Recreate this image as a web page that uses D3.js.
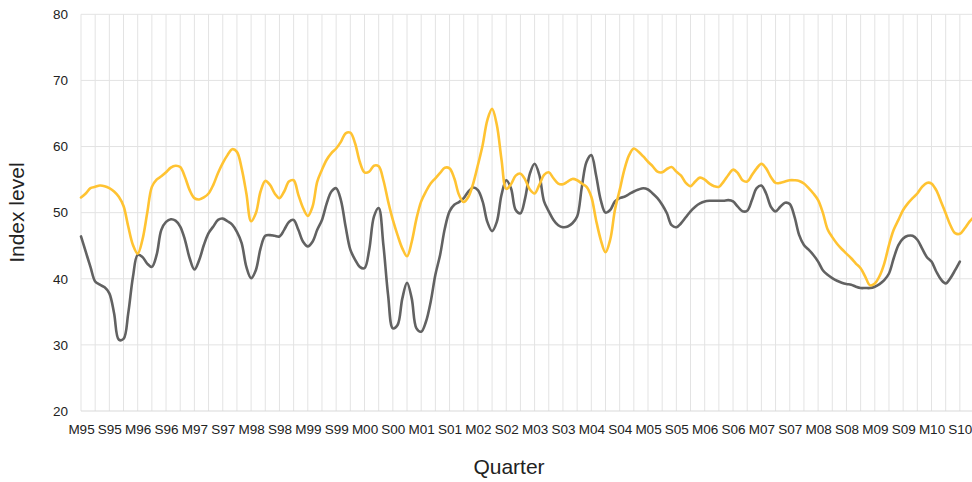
<!DOCTYPE html>
<html>
<head>
<meta charset="utf-8">
<script src="https://cdn.jsdelivr.net/npm/d3@7"></script>
<style>
  html, body { margin: 0; padding: 0; background: #fff; }
  svg { display: block; }
  text { font-family: "Liberation Sans", Arial, sans-serif; fill: #222; }
</style>
</head>
<body>
<svg id="chart" width="972" height="482"></svg>
<script>
// Quarter tick labels (every second quarter: March and September)
const tickLabels = ["M95","S95","M96","S96","M97","S97","M98","S98","M99","S99",
  "M00","S00","M01","S01","M02","S02","M03","S03","M04","S04","M05","S05",
  "M06","S06","M07","S07","M08","S08","M09","S09","M10","S10"];
const yTicks = [20, 30, 40, 50, 60, 70, 80];

// Monthly index levels starting March 1995
const seriesYellow = [
  52.3,52.9,53.7,53.9,54.1,54.0,53.7,53.2,52.4,51.0,
  47.9,45.1,43.8,45.9,49.9,53.9,55.0,55.5,56.1,56.8,
  57.1,56.9,55.4,53.4,52.2,52.0,52.3,52.9,54.2,56.0,
  57.5,58.7,59.6,59.2,56.7,52.9,48.7,49.9,53.2,54.8,
  54.2,52.9,52.2,53.2,54.7,54.9,52.7,50.7,49.5,50.9,
  54.7,56.5,58.0,59.0,59.7,60.7,62.0,62.1,60.5,57.7,
  56.1,56.2,57.1,57.0,54.9,51.7,48.9,46.6,44.6,43.4,
  45.6,49.1,51.7,53.2,54.4,55.2,56.0,56.8,56.7,55.2,
  52.7,51.6,52.4,54.4,57.2,60.2,64.0,65.7,63.3,58.0,
  53.6,54.3,55.6,55.9,55.0,53.5,52.9,54.2,55.7,56.1,
  55.2,54.4,54.3,54.7,55.1,54.9,54.4,53.9,52.4,48.9,
  45.9,44.0,45.9,50.4,53.4,56.5,58.7,59.7,59.2,58.5,
  57.7,57.0,56.2,56.1,56.6,56.9,56.2,55.6,54.5,54.0,
  54.7,55.3,55.0,54.4,54.0,53.9,54.7,55.7,56.5,56.0,
  54.9,54.7,55.7,56.7,57.4,56.7,55.4,54.5,54.5,54.7,
  54.9,54.9,54.8,54.4,53.7,52.9,51.9,50.0,47.5,46.3,
  45.3,44.5,43.8,43.1,42.3,41.6,40.3,39.0,39.3,40.4,
  42.3,45.1,47.4,48.9,50.4,51.4,52.2,52.9,53.9,54.5,
  54.4,53.4,51.7,49.9,48.1,46.9,46.8,47.6,48.6,49.4
];
const seriesGrey = [
  46.4,44.1,41.8,39.6,39.1,38.7,37.8,34.8,30.8,30.9,
  34.8,40.3,43.6,43.3,42.3,41.8,43.6,47.4,48.6,49.0,
  48.8,47.9,45.9,43.1,41.4,42.8,45.1,46.9,47.9,48.9,
  49.1,48.7,48.2,47.1,45.4,41.8,40.1,41.3,44.6,46.5,
  46.6,46.5,46.4,47.4,48.6,48.9,47.4,45.6,44.9,45.6,
  47.4,48.9,51.4,53.2,53.7,51.9,47.9,44.4,42.9,41.8,
  41.6,44.4,49.4,50.7,45.1,37.5,32.5,33.0,37.0,39.4,
  37.0,32.5,32.0,33.5,36.5,40.6,43.6,47.6,50.2,51.2,
  51.6,52.2,53.2,53.8,53.4,51.7,48.6,47.2,48.6,52.7,
  54.9,53.7,50.4,49.9,52.2,55.9,57.4,55.7,51.7,50.2,
  48.9,48.1,47.8,47.9,48.4,49.4,53.9,57.7,58.7,55.7,
  51.9,50.0,50.4,51.7,52.2,52.4,52.8,53.2,53.5,53.7,
  53.5,52.9,52.2,51.2,49.9,48.1,47.8,48.4,49.3,50.2,
  50.9,51.4,51.7,51.8,51.8,51.8,51.8,51.9,51.7,50.9,
  50.2,50.3,51.9,53.7,54.1,52.9,50.9,50.2,50.9,51.5,
  51.3,49.4,46.6,45.1,44.4,43.6,42.6,41.3,40.6,40.1,
  39.7,39.4,39.2,39.1,38.8,38.6,38.6,38.6,38.8,39.2,
  39.8,40.8,43.1,45.1,46.1,46.5,46.5,45.9,44.6,43.3,
  42.6,41.1,39.9,39.3,40.1,41.3,42.6
];

const svg = d3.select("#chart");
const W = 972, H = 482;
const plot = { left: 81, top: 14.3, bottom: 411, quarterW: 14.175 };
const nQuarters = 64;
const monthsPerQuarter = 3;
const maxMonth = (nQuarters - 1) * monthsPerQuarter;

const x = d3.scaleLinear()
  .domain([0, maxMonth])
  .range([plot.left, plot.left + (nQuarters - 1) * plot.quarterW]);
const y = d3.scaleLinear().domain([20, 80]).range([plot.bottom, plot.top]);

const gridColor = "#e3e3e3";

// vertical gridlines at every quarter
svg.append("g").selectAll("line")
  .data(d3.range(0, maxMonth + 1, monthsPerQuarter))
  .join("line")
  .attr("x1", d => x(d)).attr("x2", d => x(d))
  .attr("y1", y(80)).attr("y2", y(20))
  .attr("stroke", gridColor).attr("stroke-width", 1);

// horizontal gridlines
svg.append("g").selectAll("line")
  .data(yTicks)
  .join("line")
  .attr("x1", x(0)).attr("x2", x(maxMonth))
  .attr("y1", d => y(d)).attr("y2", d => y(d))
  .attr("stroke", d => d === 20 ? "#d9d9d9" : gridColor).attr("stroke-width", 1);

// y axis labels
const yAxis = d3.axisLeft(y).tickValues(yTicks).tickSize(0).tickPadding(13);
const gy = svg.append("g").attr("transform", `translate(${x(0)},0)`).call(yAxis);
gy.select(".domain").remove();
gy.selectAll("text").style("font-size", "13.5px").style("font-family", "'Liberation Sans', Arial, sans-serif").attr("fill", "#222");

// x axis labels
const xAxis = d3.axisBottom(x)
  .tickValues(tickLabels.map((_, i) => i * 2 * monthsPerQuarter))
  .tickFormat((d, i) => tickLabels[i]).tickSize(0).tickPadding(13);
const gx = svg.append("g").attr("transform", `translate(0,${y(20)})`).call(xAxis);
gx.select(".domain").remove();
gx.selectAll("text").style("font-size", "13.5px").style("font-family", "'Liberation Sans', Arial, sans-serif").attr("fill", "#222");

// lines
const line = d3.line()
  .x((d, i) => x(i))
  .y(d => y(d))
  .curve(d3.curveCatmullRom.alpha(0.5));

svg.append("path").datum(seriesGrey)
  .attr("d", line).attr("fill", "none")
  .attr("stroke", "#626262").attr("stroke-width", 2.6)
  .attr("stroke-linejoin", "round").attr("stroke-linecap", "round");

svg.append("path").datum(seriesYellow)
  .attr("d", line).attr("fill", "none")
  .attr("stroke", "#ffc332").attr("stroke-width", 2.6)
  .attr("stroke-linejoin", "round").attr("stroke-linecap", "round");

// axis titles
svg.append("text")
  .attr("transform", `translate(24,${(plot.top + plot.bottom) / 2}) rotate(-90)`)
  .attr("text-anchor", "middle")
  .style("font-size", "21px")
  .text("Index level");

svg.append("text")
  .attr("x", 509).attr("y", 474)
  .attr("text-anchor", "middle")
  .style("font-size", "21px")
  .text("Quarter");
</script>
</body>
</html>
